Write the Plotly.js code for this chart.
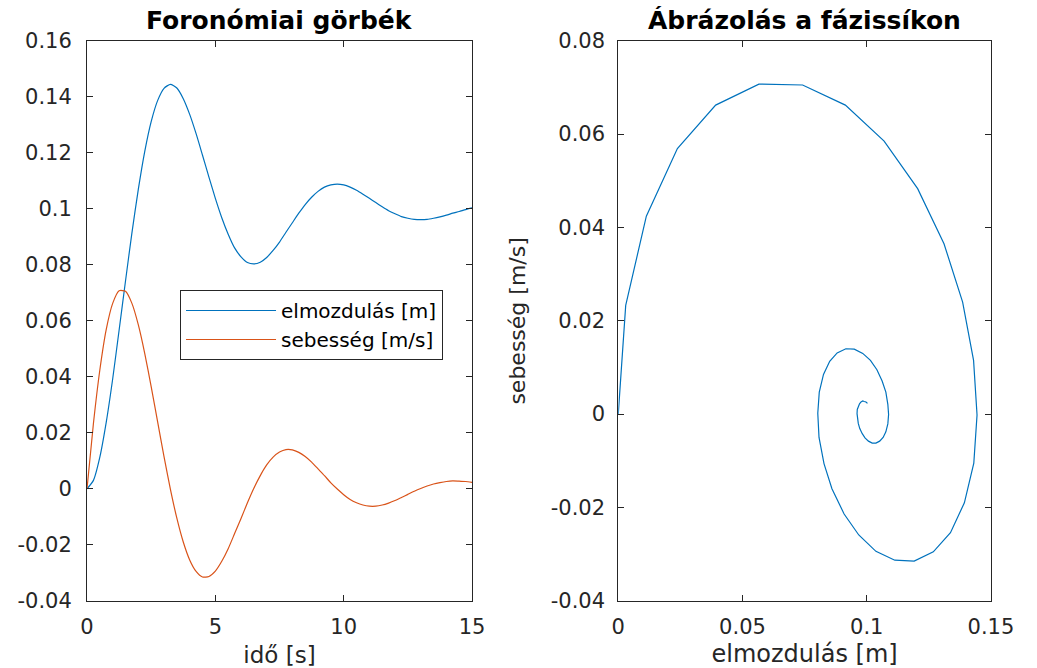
<!DOCTYPE html>
<html>
<head>
<meta charset="utf-8">
<script src="https://cdn.plot.ly/plotly-3.0.1.min.js"></script>
<style>html,body{margin:0;padding:0;background:#fff;}#chart{width:1037px;height:668px;}</style>
</head>
<body>
<div id="chart"></div>
<script>
// time [s]
const time = [0,0.25,0.5,0.75,1,1.25,1.5,1.75,2,2.25,2.5,2.75,3,3.25,3.5,3.75,4,4.25,4.5,4.75,5,5.25,5.5,5.75,6,6.25,6.5,6.75,7,7.25,7.5,7.75,8,8.25,8.5,8.75,9,9.25,9.5,9.75,10,10.25,10.5,10.75,11,11.25,11.5,11.75,12,12.25,12.5,12.75,13,13.25,13.5,13.75,14,14.25,14.5,14.75,15];
// displacement [m]
const elmozdulas = [0,0.0030,0.0113,0.0238,0.0392,0.0566,0.0742,0.0914,0.1070,0.1205,0.1311,0.1386,0.1430,0.1444,0.1431,0.1393,0.1337,0.1268,0.1191,0.1113,0.1037,0.0968,0.0909,0.0860,0.0828,0.0808,0.0803,0.0809,0.0826,0.0851,0.0881,0.0916,0.0950,0.0984,0.1015,0.1041,0.1062,0.1077,0.1085,0.1088,0.1085,0.1077,0.1066,0.1052,0.1037,0.1022,0.1007,0.0993,0.0982,0.0972,0.0966,0.0962,0.0961,0.0962,0.0966,0.0971,0.0977,0.0984,0.0990,0.0997,0.1003];
// velocity [m/s]
const sebesseg = [0,0.0233,0.0424,0.0569,0.0662,0.0707,0.0705,0.0662,0.0585,0.0483,0.0365,0.0240,0.0115,-0.0002,-0.0105,-0.0190,-0.0254,-0.0295,-0.0315,-0.0313,-0.0294,-0.0259,-0.0214,-0.0160,-0.0106,-0.0050,0.0002,0.0047,0.0085,0.0113,0.0131,0.0140,0.0139,0.0130,0.0115,0.0095,0.0071,0.0047,0.0021,-0.0001,-0.0021,-0.0038,-0.0050,-0.0058,-0.0062,-0.0062,-0.0058,-0.0051,-0.0042,-0.0031,-0.0020,-0.0009,0.0001,0.0010,0.0017,0.0022,0.0026,0.0028,0.0027,0.0026,0.0023];

const leftYTicks = [-0.04,-0.02,0,0.02,0.04,0.06,0.08,0.1,0.12,0.14,0.16];
const leftYLabels = ['-0.04','-0.02','0','0.02','0.04','0.06','0.08','0.1','0.12','0.14','0.16'];
const leftXTicks = [0,5,10,15];
const leftXLabels = ['0','5','10','15'];
const rightYTicks = [-0.04,-0.02,0,0.02,0.04,0.06,0.08];
const rightYLabels = ['-0.04','-0.02','0','0.02','0.04','0.06','0.08'];
const rightXTicks = [0,0.05,0.1,0.15];
const rightXLabels = ['0','0.05','0.1','0.15'];

const BLUE = '#0072BD', ORANGE = '#D95319', AX = '#262626';
const FONT = 'DejaVu Sans, Verdana, sans-serif';

const traces = [
  {x: time, y: elmozdulas, type: 'scatter', mode: 'lines', name: 'elmozdulás [m]',
   line: {color: BLUE, width: 1.2, shape: 'spline', smoothing: 0.6}, xaxis: 'x', yaxis: 'y'},
  {x: time, y: sebesseg, type: 'scatter', mode: 'lines', name: 'sebesség [m/s]',
   line: {color: ORANGE, width: 1.2, shape: 'spline', smoothing: 0.6}, xaxis: 'x', yaxis: 'y'},
  {x: elmozdulas, y: sebesseg, type: 'scatter', mode: 'lines', showlegend: false,
   line: {color: BLUE, width: 1.2}, xaxis: 'x2', yaxis: 'y2'}
];

function ax(extra) {
  return Object.assign({
    showline: true, linecolor: AX, linewidth: 1, mirror: 'ticks',
    ticks: 'inside', ticklen: 6, tickcolor: AX, tickwidth: 1,
    showgrid: false, zeroline: false, fixedrange: true,
    tickfont: {family: FONT, size: 21, color: AX}
  }, extra);
}

const layout = {
  width: 1037, height: 668,
  margin: {l: 0, r: 0, t: 0, b: 0},
  paper_bgcolor: '#fff', plot_bgcolor: '#fff',
  font: {family: FONT, color: AX},
  showlegend: true,
  legend: {x: 0.1736, y: 0.5659, xanchor: 'left', yanchor: 'top',
           bgcolor: '#fff', bordercolor: AX, borderwidth: 1,
           font: {family: FONT, size: 20, color: '#000'}, itemwidth: 90, tracegroupgap: 0},
  xaxis: ax({domain: [0.0839, 0.4552], range: [0, 15], tickvals: leftXTicks, ticktext: leftXLabels,
             anchor: 'y', ticklabelstandoff: 7,
             title: {text: 'idő [s]', font: {family: FONT, size: 23, color: AX}, standoff: 13}}),
  yaxis: ax({domain: [0.1006, 0.9391], range: [-0.04, 0.16], tickvals: leftYTicks, ticktext: leftYLabels,
             anchor: 'x', ticklabelstandoff: 10}),
  xaxis2: ax({domain: [0.5962, 0.9556], range: [0, 0.15], tickvals: rightXTicks, ticktext: rightXLabels,
              anchor: 'y2', ticklabelstandoff: 7,
              title: {text: 'elmozdulás [m]', font: {family: FONT, size: 24, color: AX}, standoff: 13}}),
  yaxis2: ax({domain: [0.1006, 0.9391], range: [-0.04, 0.08], tickvals: rightYTicks, ticktext: rightYLabels,
              anchor: 'x2', ticklabelstandoff: 8}),
  annotations: [
    {text: '<b>Foronómiai görbék</b>', xref: 'paper', yref: 'paper', x: 0.2696, y: 0.944,
     xanchor: 'center', yanchor: 'bottom', showarrow: false, font: {family: FONT, size: 25, color: '#000'}},
    {text: '<b>Ábrázolás a fázissíkon</b>', xref: 'paper', yref: 'paper', x: 0.7759, y: 0.944,
     xanchor: 'center', yanchor: 'bottom', showarrow: false, font: {family: FONT, size: 25, color: '#000'}},
    {text: 'sebesség [m/s]', xref: 'paper', yref: 'paper', x: 0.4995, y: 0.52,
     xanchor: 'center', yanchor: 'middle', textangle: -90, showarrow: false,
     font: {family: FONT, size: 22, color: AX}}
  ]
};

Plotly.newPlot('chart', traces, layout, {displayModeBar: false, staticPlot: true});
</script>
</body>
</html>
